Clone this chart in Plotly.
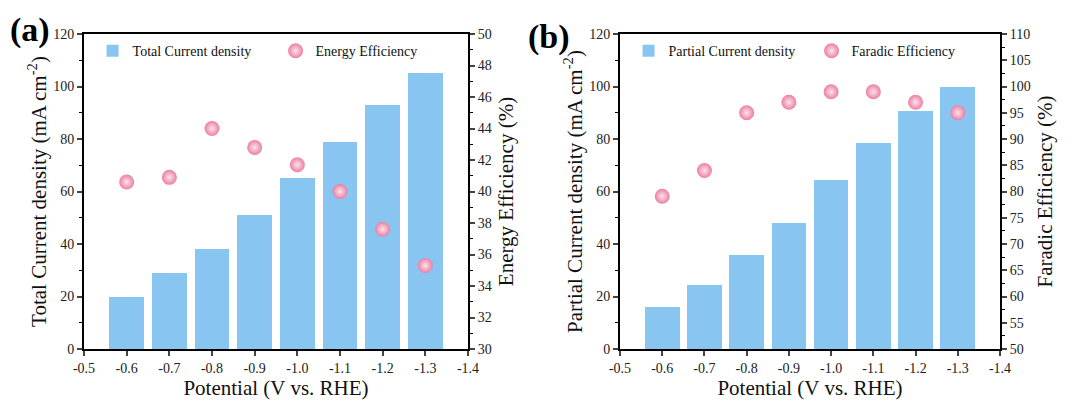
import plotly.graph_objects as go

potential = [-0.6, -0.7, -0.8, -0.9, -1.0, -1.1, -1.2, -1.3]
total_current = [20, 29, 38, 51, 65, 79, 93, 105]
energy_eff = [40.6, 40.9, 44.0, 42.8, 41.7, 40.0, 37.6, 35.3]
partial_current = [16, 24.5, 36, 48, 64.5, 78.5, 90.5, 100]
faradic_eff = [79.1, 84.0, 95.0, 97.0, 99.0, 99.0, 97.0, 95.0]
x_ticks = [-0.5, -0.6, -0.7, -0.8, -0.9, -1.0, -1.1, -1.2, -1.3, -1.4]
x_ticktext = ["-0.5", "-0.6", "-0.7", "-0.8", "-0.9", "-1.0", "-1.1", "-1.2", "-1.3", "-1.4"]

FONT = "'Liberation Serif', 'Times New Roman', serif"
BAR = "#88C5F0"
PINK = "#EC7FA4"

fig = go.Figure()

marker_style = dict(size=15, color=PINK, line=dict(width=0),
                    gradient=dict(type="radial", color="#FDE3EC"))

# panel a
fig.add_trace(go.Bar(x=potential, y=total_current, width=0.082, marker=dict(color=BAR, line=dict(width=0)),
                     name="Total Current density", xaxis="x", yaxis="y", legend="legend"))
fig.add_trace(go.Scatter(x=potential, y=energy_eff, mode="markers", name="Energy Efficiency",
                         marker=marker_style, xaxis="x", yaxis="y2", legend="legend"))
# panel b
fig.add_trace(go.Bar(x=potential, y=partial_current, width=0.082, marker=dict(color=BAR, line=dict(width=0)),
                     name="Partial Current density", xaxis="x2", yaxis="y3", legend="legend2"))
fig.add_trace(go.Scatter(x=potential, y=faradic_eff, mode="markers", name="Faradic Efficiency",
                         marker=marker_style, xaxis="x2", yaxis="y4", legend="legend2"))

tickfont = dict(family=FONT, size=14, color="#222")
titlefont = dict(family=FONT, size=21, color="#111")

xd1 = [84/1069, 468/1069]
xd2 = [620/1069, 1000/1069]
yd = [51/400, 366/400]

def xax(domain, anchor):
    return dict(domain=domain, anchor=anchor, range=[-0.5, -1.4], tickvals=x_ticks, ticktext=x_ticktext,
                ticks="outside", ticklen=5, tickwidth=1.5, showline=True, linewidth=2, linecolor="black",
                mirror=True, showgrid=False, zeroline=False, tickfont=tickfont, automargin=False,
                title=dict(text="Potential (V vs. RHE)", font=titlefont, standoff=4))

def yax_left(domain, anchor, title):
    return dict(domain=domain, anchor=anchor, range=[0, 120], tickvals=[0, 20, 40, 60, 80, 100, 120],
                ticks="outside", ticklen=5, tickwidth=1.5, showline=True, linewidth=2, linecolor="black",
                showgrid=False, zeroline=False, tickfont=tickfont, automargin=False,
                minor=dict(dtick=10, ticks="outside", ticklen=3, tickwidth=1, tickcolor="black"),
                title=dict(text=title, font=titlefont, standoff=1))

def yax_right(overlay, anchor, rng, dtick, mdtick, title):
    return dict(overlaying=overlay, anchor=anchor, side="right", range=rng, dtick=dtick, tick0=rng[0],
                ticks="outside", ticklen=5, tickwidth=1.5, showline=True, linewidth=2, linecolor="black",
                showgrid=False, zeroline=False, tickfont=tickfont, automargin=False,
                minor=dict(dtick=mdtick, ticks="outside", ticklen=3, tickwidth=1, tickcolor="black"),
                title=dict(text=title, font=titlefont, standoff=8))

legfont = dict(family=FONT, size=14, color="#111")

fig.update_layout(
    width=1069, height=400, margin=dict(l=0, r=0, t=0, b=0, autoexpand=False),
    paper_bgcolor="white", plot_bgcolor="white", showlegend=True,
    font=dict(family=FONT),
    bargap=0,
    xaxis=xax(xd1, "y"),
    yaxis=yax_left(yd, "x", "Total Current density (mA cm<sup>-2</sup>)"),
    yaxis2=yax_right("y", "x", [30, 50], 2, 1, "Energy Efficiency (%)"),
    xaxis2=xax(xd2, "y3"),
    yaxis3=yax_left(yd, "x2", "Partial Current density (mA cm<sup>-2</sup>)"),
    yaxis4=yax_right("y3", "x2", [50, 110], 5, 2.5, "Faradic Efficiency (%)"),
    legend=dict(orientation="h", x=xd1[0] + 0.008, y=yd[1] - 0.003, xanchor="left", yanchor="top",
                font=legfont, bgcolor="rgba(0,0,0,0)", itemwidth=30, entrywidthmode="pixels", entrywidth=138),
    legend2=dict(orientation="h", x=xd2[0] + 0.008, y=yd[1] - 0.003, xanchor="left", yanchor="top",
                 font=legfont, bgcolor="rgba(0,0,0,0)", itemwidth=30, entrywidthmode="pixels", entrywidth=138),
    annotations=[
        dict(text="<b>(a)</b>", x=8/1069, y=1 - 30/400, xref="paper", yref="paper", xanchor="left", yanchor="middle",
             showarrow=False, font=dict(family=FONT, size=34, color="black")),
        dict(text="<b>(b)</b>", x=526/1069, y=1 - 37/400, xref="paper", yref="paper", xanchor="left", yanchor="middle",
             showarrow=False, font=dict(family=FONT, size=34, color="black")),
    ],
)

fig.write_html("out.html")
